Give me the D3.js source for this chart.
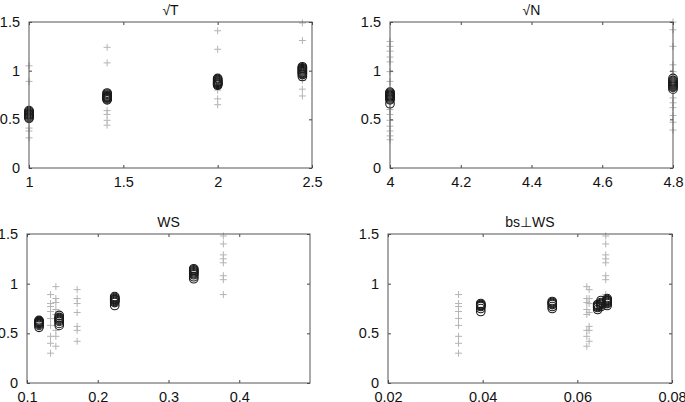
<!DOCTYPE html>
<html>
<head>
<meta charset="utf-8">
<script src="https://cdn.jsdelivr.net/npm/d3@7"></script>
<style>
  body { margin: 0; background: #fff; }
  svg text { font-family: "Liberation Sans", Arial, sans-serif; fill: #111; }
</style>
</head>
<body>
<div id="chart"></div>
<script>
// Panel 1: sqrt(T)
const tX = [1, 1.414, 2, 2.449];
const tCircles = [
    [0.51, 0.52, 0.53, 0.54, 0.55, 0.55, 0.56, 0.57, 0.58, 0.59],
    [0.70, 0.71, 0.72, 0.72, 0.73, 0.73, 0.74, 0.75, 0.76, 0.77],
    [0.85, 0.86, 0.86, 0.87, 0.88, 0.88, 0.89, 0.90, 0.91, 0.92],
    [0.94, 0.96, 0.97, 0.98, 0.99, 1.00, 1.01, 1.02, 1.03, 1.04]
];
const tPlus = [
    [1.05, 0.89, 0.41, 0.38, 0.31],
    [1.24, 1.08, 0.59, 0.55, 0.49, 0.44],
    [1.41, 1.22, 0.80, 0.71, 0.65],
    [1.49, 1.31, 0.90, 0.81, 0.74]
];

// Panel 2: sqrt(N)
const nX = [4, 4.8];
const nCircles = [
    [0.66, 0.70, 0.71, 0.72, 0.73, 0.74, 0.74, 0.75, 0.75, 0.76, 0.77, 0.78],
    [0.81, 0.83, 0.84, 0.85, 0.86, 0.87, 0.88, 0.89, 0.90, 0.92]
];
const nPlus = [
    [1.30, 1.25, 1.20, 1.14, 1.09, 0.99, 0.89, 0.60, 0.55, 0.49, 0.43, 0.38, 0.33, 0.29],
    [1.50, 1.42, 1.25, 1.06, 0.99, 0.72, 0.67, 0.62, 0.54, 0.47, 0.39]
];

// Panel 3: WS
const wsCircleX = [0.117, 0.1455, 0.224, 0.3357];
const wsCircles = [
    [0.56, 0.58, 0.59, 0.60, 0.60, 0.61, 0.61, 0.62, 0.62, 0.63],
    [0.58, 0.60, 0.62, 0.63, 0.64, 0.65, 0.66, 0.68],
    [0.78, 0.81, 0.82, 0.83, 0.84, 0.84, 0.85, 0.86, 0.87],
    [1.05, 1.07, 1.09, 1.10, 1.11, 1.12, 1.13, 1.14, 1.15]
];
const wsPlusX = [0.1333, 0.1408, 0.1709, 0.3775];
const wsPlus = [
    [0.89, 0.80, 0.77, 0.72, 0.65, 0.58, 0.47, 0.40, 0.30],
    [0.97, 0.85, 0.81, 0.74, 0.69, 0.53, 0.47, 0.37],
    [0.94, 0.85, 0.80, 0.71, 0.57, 0.53, 0.42],
    [1.48, 1.40, 1.29, 1.25, 1.21, 1.08, 1.04, 0.89]
];

// Panel 4: bs perpendicular WS
const bsCircleX = [0.0396, 0.0547, 0.0643, 0.0650, 0.0663];
const bsCircles = [
    [0.72, 0.75, 0.77, 0.78, 0.79, 0.80, 0.78],
    [0.75, 0.77, 0.79, 0.81, 0.82, 0.80],
    [0.74, 0.76, 0.77, 0.78, 0.79],
    [0.77, 0.79, 0.80, 0.81, 0.83],
    [0.78, 0.80, 0.81, 0.82, 0.83, 0.84, 0.85, 0.83]
];
const bsPlusX = [0.0349, 0.0620, 0.0625, 0.0660];
const bsPlus = wsPlus;

const panels = [
    { title: '√T', left: 29, top: 22, right: 312, bottom: 168,
      xDomain: [1, 2.5], xTicks: [1, 1.5, 2, 2.5],
      circleX: tX, circles: tCircles, plusX: tX, plus: tPlus },
    { title: '√N', left: 390, top: 22, right: 673, bottom: 168,
      xDomain: [4, 4.8], xTicks: [4, 4.2, 4.4, 4.6, 4.8],
      circleX: nX, circles: nCircles, plusX: nX, plus: nPlus },
    { title: 'WS', left: 27, top: 234, right: 310, bottom: 383,
      xDomain: [0.1, 0.5], xTicks: [0.1, 0.2, 0.3, 0.4],
      circleX: wsCircleX, circles: wsCircles, plusX: wsPlusX, plus: wsPlus },
    { title: 'bs⊥WS', left: 388, top: 234, right: 672, bottom: 383,
      xDomain: [0.02, 0.08], xTicks: [0.02, 0.04, 0.06, 0.08],
      circleX: bsCircleX, circles: bsCircles, plusX: bsPlusX, plus: bsPlus }
];
const yTicks = [0, 0.5, 1, 1.5];

const svg = d3.select('#chart')
    .append('svg')
    .attr('width', 685)
    .attr('height', 402);

panels.forEach(p => {
    const x = d3.scaleLinear().domain(p.xDomain).range([p.left, p.right]);
    const y = d3.scaleLinear().domain([0, 1.5]).range([p.bottom, p.top]);
    const g = svg.append('g');

    // flatten columns to points
    const plusPts = p.plus.flatMap((col, i) => col.map(v => [p.plusX[i], v]));
    const circPts = p.circles.flatMap((col, i) => col.map(v => [p.circleX[i], v]));

    g.selectAll('path.plus')
        .data(plusPts)
        .enter().append('path')
        .attr('class', 'plus')
        .attr('transform', d => `translate(${x(d[0])},${y(d[1])})`)
        .attr('d', 'M-3.5,0H3.5M0,-3.5V3.5')
        .attr('stroke', '#b4b4b4')
        .attr('stroke-width', 1)
        .attr('fill', 'none');

    g.selectAll('circle')
        .data(circPts)
        .enter().append('circle')
        .attr('cx', d => x(d[0]))
        .attr('cy', d => y(d[1]))
        .attr('r', 4.3)
        .attr('fill', 'none')
        .attr('stroke', '#1a1a1a')
        .attr('stroke-width', 1.1);

    const fmt = d3.format('~g');

    g.append('g')
        .attr('transform', `translate(0,${p.bottom})`)
        .call(d3.axisBottom(x).tickValues(p.xTicks).tickFormat(fmt)
            .tickSizeInner(-3).tickSizeOuter(0).tickPadding(9))
        .call(a => a.select('.domain').remove());
    g.append('g')
        .attr('transform', `translate(0,${p.top})`)
        .call(d3.axisTop(x).tickValues(p.xTicks).tickFormat('')
            .tickSizeInner(-3).tickSizeOuter(0))
        .call(a => a.select('.domain').remove());
    g.append('g')
        .attr('transform', `translate(${p.left},0)`)
        .call(d3.axisLeft(y).tickValues(yTicks).tickFormat(fmt)
            .tickSizeInner(-3).tickSizeOuter(0).tickPadding(9))
        .call(a => a.select('.domain').remove());
    g.append('g')
        .attr('transform', `translate(${p.right},0)`)
        .call(d3.axisRight(y).tickValues(yTicks).tickFormat('')
            .tickSizeInner(-3).tickSizeOuter(0))
        .call(a => a.select('.domain').remove());

    g.selectAll('.tick line').attr('stroke', '#444');
    g.selectAll('.tick text')
        .attr('font-size', 14.5)
        .attr('font-family', '"Liberation Sans", Arial, sans-serif')
        .attr('fill', '#111');

    g.append('rect')
        .attr('x', p.left)
        .attr('y', p.top)
        .attr('width', p.right - p.left)
        .attr('height', p.bottom - p.top)
        .attr('fill', 'none')
        .attr('stroke', '#555')
        .attr('stroke-width', 1);

    g.append('text')
        .attr('x', (p.left + p.right) / 2)
        .attr('y', p.top - 7)
        .attr('text-anchor', 'middle')
        .attr('font-size', 14)
        .text(p.title);
});
</script>
</body>
</html>
